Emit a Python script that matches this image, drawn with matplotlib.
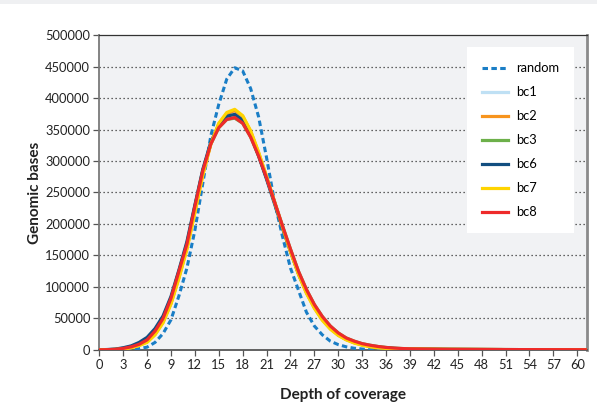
import matplotlib
matplotlib.use("Agg")
import matplotlib.pyplot as plt
from matplotlib.patches import Rectangle

plt.rcParams["font.family"] = ["Lato", "DejaVu Sans"]

depth = list(range(0, 62))

tail = [1600, 1400, 1250, 1100, 1000, 950, 900, 850, 800, 750, 700, 650, 620, 600, 580, 560, 540, 520, 500, 480, 460, 440]

random_cov = [0, 0, 0, 200, 800, 2000, 4500, 12000, 26000, 48000, 86000, 130000, 190000,
              265000, 340000, 390000, 430000, 448000, 443000, 415000, 370000, 305000, 235000,
              180000, 130000, 95000, 60000, 38000, 24000, 14000, 8500, 5000, 2800, 1500, 800,
              400, 200, 100] + [0] * 24
bc1 = [300, 700, 1300, 3200, 6000, 11000, 18500, 32000, 52000, 83000, 126000, 170000, 229000,
       286000, 328000, 355000, 369000, 372000, 363000, 340000, 308000, 272000, 234000, 195000,
       158000, 123000, 94000, 70000, 51000, 36500, 25500, 18000, 13000, 9500, 7000, 5200, 3800,
       2800, 2100, 1800] + tail
bc2 = [150, 400, 800, 1700, 3800, 7500, 13000, 25000, 44000, 74000, 115000, 161000, 219000,
       279000, 327000, 359000, 375000, 380000, 371000, 347000, 313000, 275000, 235000, 195000,
       157000, 121000, 91000, 67000, 48000, 34000, 23500, 16500, 11500, 8000, 5500, 3800, 2700,
       2000, 1700, 1600] + tail
bc3 = [200, 500, 1000, 2600, 5200, 9500, 16500, 30500, 50500, 82000, 125000, 168000, 228000,
       285000, 327000, 353000, 366000, 368000, 360000, 338000, 308000, 273000, 235000, 197000,
       160000, 125000, 96000, 72000, 53000, 38000, 27000, 19000, 14000, 10000, 7500, 5500, 4000,
       3000, 2300, 1800] + tail
bc6 = [300, 700, 1400, 3500, 6500, 12000, 20000, 34000, 54000, 85000, 127000, 172000, 230000,
       287000, 330000, 357000, 371000, 374000, 365000, 341000, 308000, 271000, 232000, 193000,
       156000, 121000, 92000, 68000, 49000, 35000, 24000, 17000, 12000, 8500, 6000, 4300, 3200,
       2400, 1900, 1600] + tail
bc7 = [150, 400, 800, 1500, 3500, 7000, 12000, 24000, 43000, 73000, 114000, 160000, 218000,
       278000, 327000, 360000, 377000, 382000, 372000, 348000, 314000, 275000, 235000, 195000,
       156000, 120000, 90000, 66000, 47000, 33000, 23000, 16000, 11000, 7500, 5000, 3500, 2500,
       1900, 1700, 1600] + tail
bc8 = [200, 500, 1000, 2500, 5000, 9000, 16000, 30000, 50000, 82000, 125000, 168000, 228000,
       285000, 327000, 353000, 366000, 369000, 360000, 338000, 308000, 273000, 235000, 197000,
       160000, 125000, 96000, 72000, 53000, 38000, 27000, 19000, 14000, 10000, 7500, 5500, 4000,
       3000, 2300, 1800] + tail

series_names = ["bc1", "bc2", "bc3", "bc6", "bc7", "bc8"]
series_vals = [bc1, bc2, bc3, bc6, bc7, bc8]
series_colors = ["#bfe0f4", "#f7941d", "#6db04a", "#124e80", "#ffd400", "#ee2a2a"]

xticks = list(range(0, 61, 3))
yticks = list(range(0, 500001, 50000))

fig = plt.figure(figsize=(5.97, 4.09), dpi=100)
fig.patches.append(Rectangle((0, 0.99), 1, 0.01, transform=fig.transFigure,
                             facecolor="#eff0f2", edgecolor="none", zorder=0))
ax = fig.add_axes([0.1663, 0.1443, 0.8167, 0.7701])
ax.set_facecolor("#f1f2f4")

for v in yticks[1:-1]:
    ax.axhline(v, color="#333333", linestyle=(0, (1, 2.2)), linewidth=0.9, zorder=1)

ax.plot(depth, random_cov, color="#1a7ec6", linewidth=2.2, linestyle=(0, (1.8, 1.1)),
        label="random", zorder=3, dash_capstyle="butt")
for name, vals, c in zip(series_names, series_vals, series_colors):
    ax.plot(depth, vals, color=c, linewidth=2.3, label=name, zorder=4)

ax.set_xlim(0, 61.2)
ax.set_ylim(0, 500000)
ax.set_xticks(xticks)
ax.set_xticklabels([str(t) for t in xticks])
ax.set_yticks(yticks)
ax.set_yticklabels([str(t) for t in yticks])
ax.tick_params(axis="both", labelsize=9.3, length=4, width=0.9, color="#555555",
               labelcolor="#222222", pad=2.5)

ax.spines["left"].set_color("#7a7a7a")
ax.spines["left"].set_linewidth(1.3)
ax.spines["bottom"].set_color("#555555")
ax.spines["bottom"].set_linewidth(1.3)
ax.spines["top"].set_color("#333333")
ax.spines["top"].set_linewidth(0.9)
ax.spines["right"].set_color("#8a8a8a")
ax.spines["right"].set_linewidth(2)

ax.set_xlabel("Depth of coverage", fontsize=11, fontweight="bold", color="#222222")
ax.set_ylabel("Genomic bases", fontsize=11, fontweight="bold", color="#222222")
ax.xaxis.set_label_coords(0.5, -0.122)
ax.yaxis.set_label_coords(-0.118, 0.5)

leg = ax.legend(loc="upper right", bbox_to_anchor=(0.9733, 0.961), fontsize=9.3,
                frameon=True, fancybox=False, framealpha=1, edgecolor="none",
                facecolor="white", borderpad=1.15, labelspacing=0.93, handlelength=2.0,
                handletextpad=0.6, borderaxespad=0)

fig.savefig("out.png", dpi=100)
